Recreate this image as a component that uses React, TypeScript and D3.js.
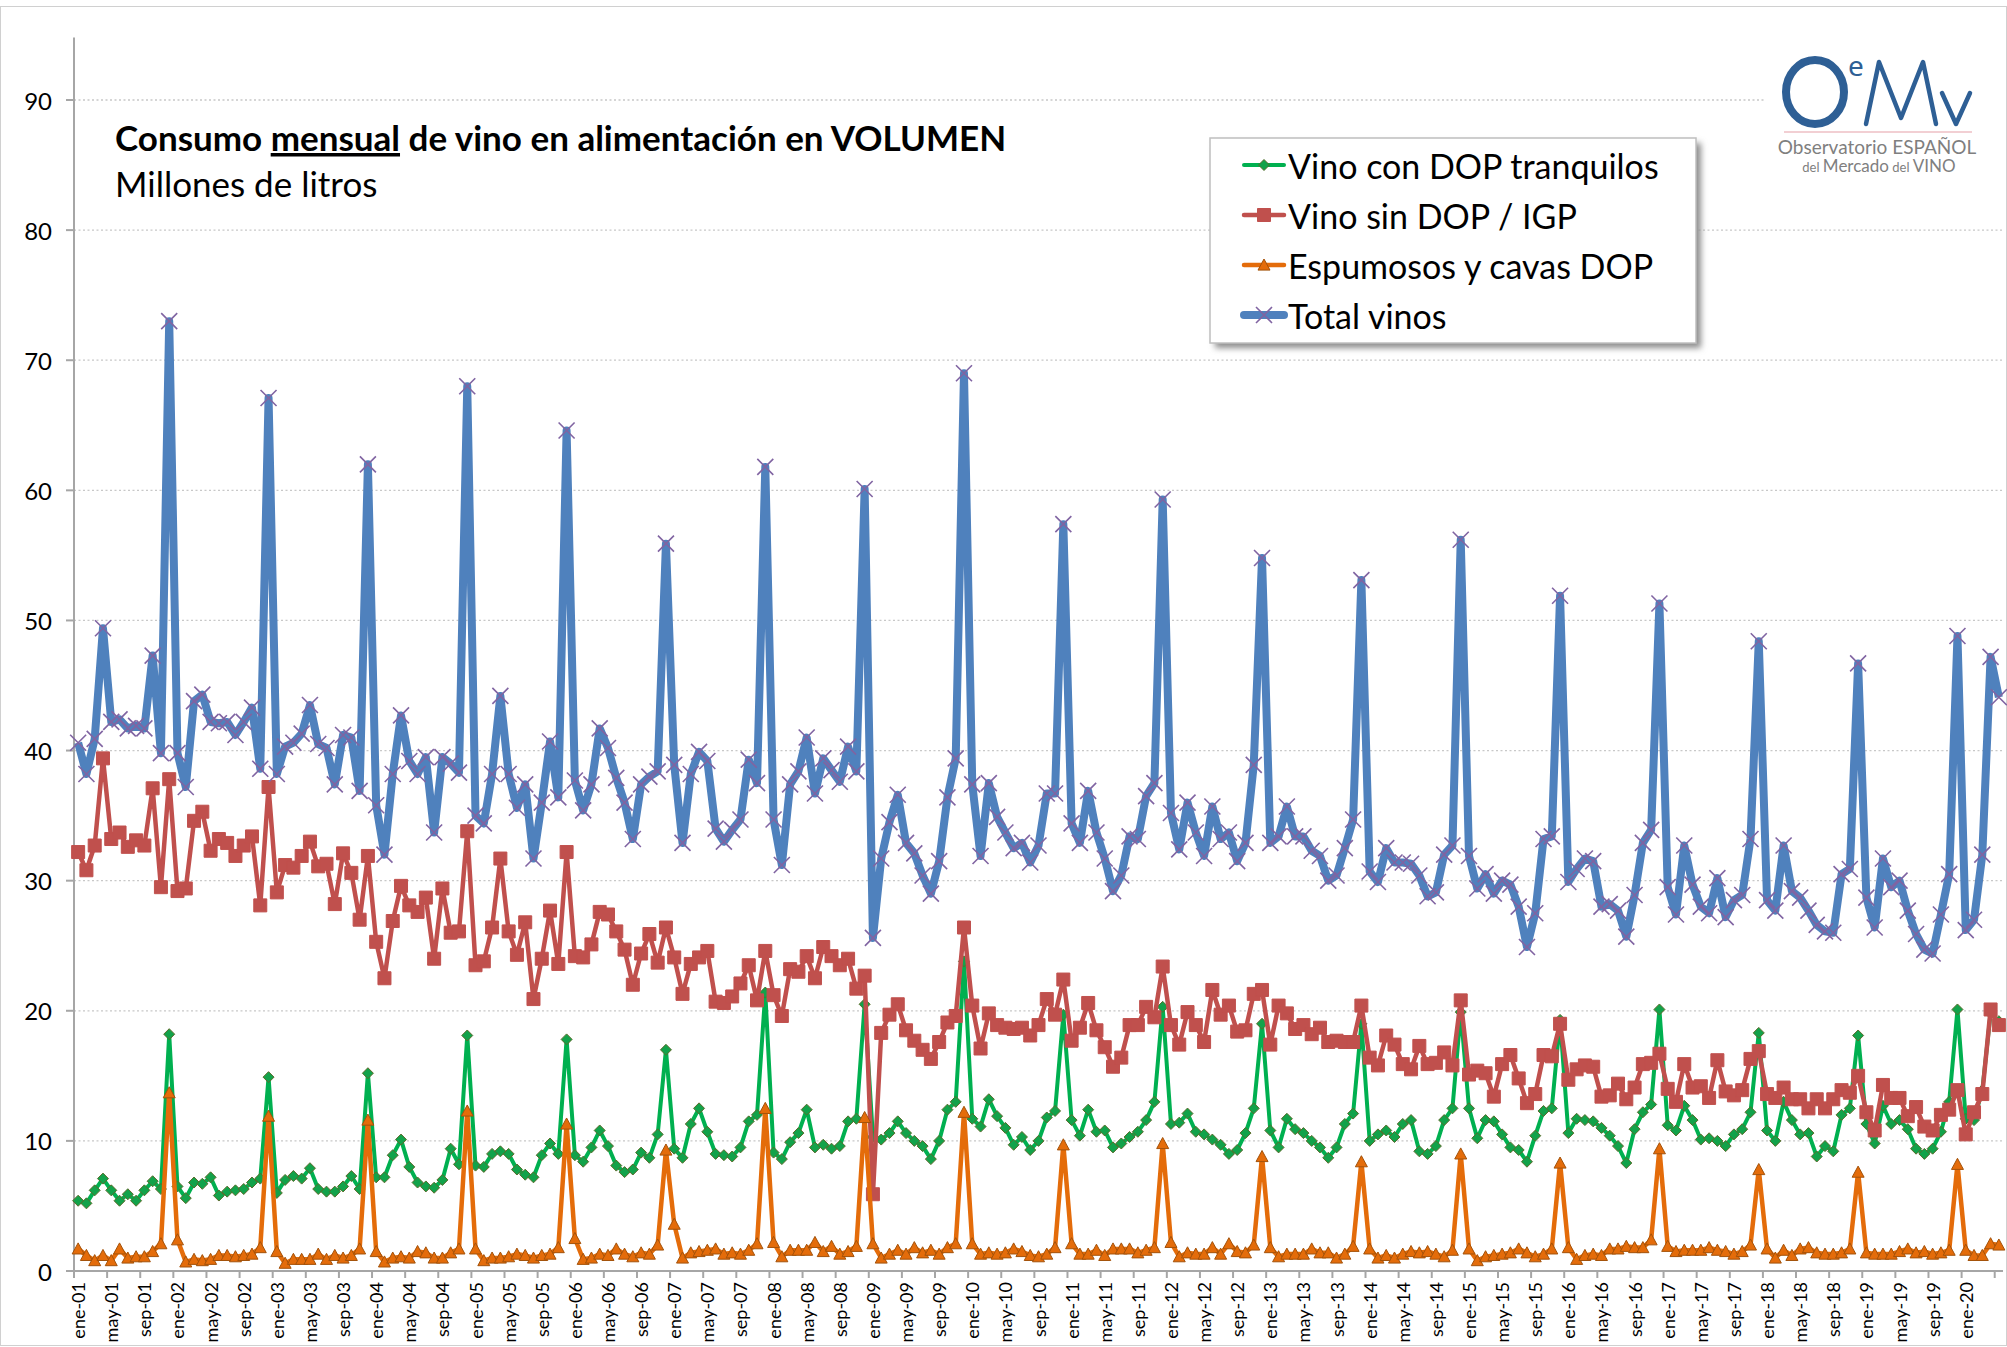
import * as React from 'react';
import * as d3 from 'd3';

// eje de categorías: ene-01 ... may-20
const monthNames = ['ene', 'feb', 'mar', 'abr', 'may', 'jun', 'jul', 'ago', 'sep', 'oct', 'nov', 'dic'];
const startYear = 2001;
const nMonths = 233;
const categories = d3.range(nMonths).map(i =>
    `${monthNames[i % 12]}-${String((startYear + Math.floor(i / 12)) % 100).padStart(2, '0')}`);

// millones de litros
const dopTranquilos = [
    5.4, 5.2, 6.2, 7.1, 6.2, 5.4, 5.9, 5.4, 6.2, 6.9,
    6.3, 18.2, 6.5, 5.6, 6.8, 6.7, 7.2, 5.8, 6.1, 6.2,
    6.3, 6.8, 7.1, 14.9, 6.0, 7.0, 7.3, 7.1, 7.9, 6.3,
    6.1, 6.1, 6.5, 7.3, 6.3, 15.2, 7.2, 7.2, 8.9, 10.1,
    8.0, 6.8, 6.5, 6.4, 7.0, 9.4, 8.2, 18.1, 8.1, 8.0,
    9.0, 9.2, 9.0, 7.8, 7.4, 7.2, 8.9, 9.8, 9.0, 17.8,
    8.9, 8.4, 9.5, 10.8, 9.6, 8.1, 7.6, 7.8, 9.1, 8.7,
    10.5, 17.0, 9.4, 8.7, 11.3, 12.5, 10.7, 9.0, 8.9, 8.8,
    9.5, 11.5, 12.0, 21.4, 9.1, 8.6, 9.9, 10.6, 12.4, 9.5,
    9.7, 9.4, 9.6, 11.5, 11.7, 20.5, 10.3, 10.1, 10.6, 11.5,
    10.6, 10.0, 9.6, 8.6, 10.0, 12.4, 13.0, 23.8, 11.7, 11.1,
    13.2, 11.9, 11.0, 9.7, 10.3, 9.3, 10.0, 11.8, 12.3, 19.7,
    11.6, 10.4, 12.4, 10.7, 10.8, 9.5, 9.8, 10.3, 10.7, 11.6,
    13.0, 20.3, 11.3, 11.4, 12.1, 10.7, 10.5, 10.1, 9.7, 9.0,
    9.3, 10.6, 12.5, 19.0, 10.8, 9.5, 11.7, 10.9, 10.6, 10.0,
    9.5, 8.7, 9.5, 11.3, 12.1, 19.0, 10.0, 10.5, 10.8, 10.3,
    11.3, 11.6, 9.2, 9.0, 9.6, 11.6, 12.5, 19.9, 12.5, 10.2,
    11.6, 11.5, 10.5, 9.5, 9.3, 8.4, 10.4, 12.3, 12.5, 19.3,
    10.6, 11.7, 11.6, 11.5, 11.0, 10.4, 9.6, 8.3, 10.9, 12.2,
    12.8, 20.1, 11.2, 10.8, 12.7, 11.6, 10.1, 10.2, 10.0, 9.6,
    10.5, 10.9, 12.2, 18.3, 10.8, 10.0, 13.0, 11.6, 10.5, 10.6,
    8.8, 9.6, 9.2, 12.0, 12.5, 18.1, 11.3, 9.8, 12.7, 11.3,
    11.6, 10.9, 9.4, 9.0, 9.4, 10.7, 13.0, 20.1, 11.7, 11.6,
    13.9, 19.8, 19.2
];

const sinDop = [
    32.2, 30.8, 32.7, 39.4, 33.2, 33.7, 32.6, 33.1, 32.7, 37.1,
    29.5, 37.8, 29.2, 29.4, 34.6, 35.3, 32.3, 33.2, 32.9, 31.9,
    32.7, 33.4, 28.1, 37.2, 29.1, 31.2, 31.0, 31.9, 33.0, 31.1,
    31.3, 28.2, 32.1, 30.6, 27.0, 31.9, 25.3, 22.5, 26.9, 29.6,
    28.1, 27.6, 28.7, 24.0, 29.4, 26.0, 26.1, 33.8, 23.5, 23.8,
    26.4, 31.7, 26.1, 24.3, 26.8, 20.9, 24.0, 27.7, 23.6, 32.2,
    24.2, 24.1, 25.1, 27.6, 27.4, 26.1, 24.7, 22.0, 24.4, 25.9,
    23.7, 26.4, 24.1, 21.3, 23.6, 24.1, 24.6, 20.7, 20.6, 21.1,
    22.1, 23.5, 20.8, 24.6, 21.2, 19.6, 23.2, 23.0, 24.2, 22.5,
    24.9, 24.2, 23.5, 24.0, 21.7, 22.7, 5.9, 18.3, 19.7, 20.5,
    18.5, 17.7, 17.0, 16.3, 17.6, 19.1, 19.6, 26.4, 20.4, 17.1,
    19.8, 18.9, 18.7, 18.6, 18.7, 18.1, 18.9, 20.9, 19.7, 22.4,
    17.7, 18.7, 20.6, 18.5, 17.2, 15.7, 16.4, 18.9, 18.9, 20.3,
    19.5, 23.4, 18.9, 17.4, 19.9, 18.9, 17.6, 21.6, 19.7, 20.4,
    18.4, 18.5, 21.3, 21.6, 17.4, 20.4, 19.8, 18.6, 18.9, 18.2,
    18.7, 17.6, 17.7, 17.6, 17.6, 20.4, 16.4, 15.8, 18.1, 17.4,
    15.9, 15.5, 17.3, 15.9, 16.0, 16.8, 15.8, 20.8, 15.1, 15.4,
    15.2, 13.4, 15.9, 16.6, 14.8, 12.9, 13.6, 16.6, 16.5, 19.0,
    14.7, 15.5, 15.8, 15.7, 13.4, 13.5, 14.4, 13.2, 14.1, 15.9,
    16.0, 16.7, 14.0, 13.0, 15.9, 14.1, 14.2, 13.3, 16.2, 13.8,
    13.5, 13.9, 16.3, 16.9, 13.6, 13.3, 14.1, 13.2, 13.2, 12.5,
    13.2, 12.5, 13.2, 13.9, 13.7, 15.0, 12.2, 10.8, 14.3, 13.3,
    13.3, 11.9, 12.6, 11.1, 10.8, 12.0, 12.4, 13.9, 10.5, 12.2,
    13.6, 20.1, 18.9
];

const espumosos = [
    1.7, 1.2, 0.8, 1.2, 0.8, 1.7, 1.0, 1.1, 1.1, 1.5,
    2.1, 13.7, 2.4, 0.7, 0.9, 0.8, 0.9, 1.2, 1.2, 1.1,
    1.2, 1.3, 1.8, 11.9, 1.5, 0.6, 0.9, 0.9, 0.9, 1.3,
    0.9, 1.2, 1.0, 1.2, 1.7, 11.6, 1.5, 0.7, 1.0, 1.1,
    1.0, 1.5, 1.4, 1.0, 1.0, 1.4, 1.7, 12.3, 1.7, 0.8,
    1.0, 1.0, 1.1, 1.3, 1.2, 1.0, 1.2, 1.3, 1.8, 11.3,
    2.5, 0.9, 1.0, 1.3, 1.2, 1.7, 1.3, 1.1, 1.4, 1.3,
    2.0, 9.3, 3.6, 1.0, 1.4, 1.5, 1.6, 1.7, 1.3, 1.4,
    1.3, 1.6, 2.1, 12.5, 2.2, 1.1, 1.6, 1.6, 1.6, 2.2,
    1.5, 1.9, 1.3, 1.5, 1.9, 11.8, 2.1, 1.0, 1.3, 1.6,
    1.3, 1.8, 1.4, 1.6, 1.3, 1.8, 2.1, 12.2, 2.1, 1.3,
    1.4, 1.3, 1.4, 1.7, 1.5, 1.2, 1.1, 1.3, 1.8, 9.7,
    2.1, 1.3, 1.3, 1.6, 1.2, 1.7, 1.7, 1.7, 1.4, 1.6,
    1.8, 9.8, 2.2, 1.1, 1.4, 1.3, 1.3, 1.8, 1.3, 2.1,
    1.5, 1.4, 2.0, 8.8, 1.8, 1.1, 1.3, 1.3, 1.3, 1.7,
    1.4, 1.4, 1.0, 1.3, 1.9, 8.4, 1.7, 1.0, 1.2, 1.0,
    1.3, 1.5, 1.4, 1.5, 1.3, 1.1, 1.6, 9.0, 1.7, 0.8,
    1.1, 1.2, 1.3, 1.4, 1.7, 1.4, 1.1, 1.3, 1.7, 8.3,
    1.8, 0.9, 1.2, 1.3, 1.2, 1.7, 1.7, 1.9, 1.8, 1.8,
    2.4, 9.4, 1.9, 1.5, 1.6, 1.6, 1.6, 1.8, 1.6, 1.5,
    1.3, 1.5, 2.0, 7.8, 1.7, 1.0, 1.6, 1.2, 1.7, 1.8,
    1.4, 1.3, 1.3, 1.4, 1.7, 7.6, 1.4, 1.3, 1.3, 1.3,
    1.5, 1.7, 1.4, 1.5, 1.3, 1.4, 1.6, 8.2, 1.6, 1.2,
    1.2, 2.1, 2.0
];

const totalVinos = [
    40.6, 38.2, 40.9, 49.4, 42.2, 42.4, 41.7, 41.9, 41.7, 47.3,
    39.8, 73.0, 39.8, 37.2, 43.8, 44.3, 42.2, 42.1, 42.2, 41.2,
    42.2, 43.3, 38.6, 67.1, 38.2, 40.3, 40.6, 41.3, 43.5, 40.5,
    40.2, 37.4, 41.2, 41.0, 36.9, 62.0, 35.8, 32.0, 38.2, 42.7,
    39.2, 38.2, 39.5, 33.7, 39.5, 39.0, 38.3, 68.0, 35.0, 34.4,
    38.2, 44.2, 38.2, 35.6, 37.4, 31.7, 36.0, 40.7, 36.4, 64.6,
    37.7, 35.4, 37.4, 41.7, 40.2, 37.9, 36.0, 33.2, 37.4, 38.0,
    38.4, 55.9, 38.9, 32.9, 38.2, 39.9, 39.2, 34.0, 33.0, 33.9,
    34.7, 39.3, 37.5, 61.8, 34.7, 31.2, 37.4, 38.4, 41.0, 36.7,
    39.4, 38.5, 37.6, 40.3, 38.4, 60.1, 25.6, 31.7, 34.5, 36.6,
    32.9, 32.1, 30.4, 29.0, 31.5, 36.4, 39.4, 69.0, 37.4, 31.9,
    37.5, 34.9, 33.7, 32.5, 32.9, 31.4, 32.7, 36.7, 36.7, 57.4,
    34.4, 32.9, 36.9, 33.7, 31.7, 29.2, 30.4, 33.4, 33.2, 36.5,
    37.5, 59.3, 35.2, 32.4, 36.0, 33.7, 31.9, 35.7, 33.2, 33.7,
    31.5, 32.9, 38.9, 54.8, 32.9, 33.4, 35.7, 33.4, 33.4, 32.3,
    31.9, 30.0, 30.4, 32.5, 34.7, 53.1, 30.7, 29.9, 32.5, 31.4,
    31.4, 31.3, 30.4, 28.8, 29.1, 32.0, 32.7, 56.2, 31.9, 29.4,
    30.5, 29.0, 30.0, 29.7, 28.0, 24.9, 27.5, 33.2, 33.4, 51.9,
    29.9, 30.9, 31.7, 31.5, 28.0, 28.2, 27.7, 25.7, 28.9, 32.9,
    33.9, 51.3, 29.5, 27.4, 32.7, 29.7, 28.0, 27.5, 30.2, 27.2,
    28.5, 28.9, 33.2, 48.4, 28.5, 27.7, 32.7, 29.2, 28.7, 27.7,
    26.6, 26.1, 26.0, 30.5, 30.9, 46.7, 28.7, 26.4, 31.7, 29.5,
    30.0, 27.7, 25.9, 24.7, 24.4, 27.4, 30.5, 48.8, 26.2, 27.0,
    32.0, 47.2, 44.1
];

const yTicks = [0, 10, 20, 30, 40, 50, 60, 70, 80, 90];

const W = 2007;
const H = 1347;
const left = 74;
const right = 2003;
const bottom = 1271;
const top90 = 100;
const font = 'Lato, "Open Sans", sans-serif';

const xScale = d3.scaleBand<number>()
    .domain(d3.range(nMonths))
    .range([left, right])
    .padding(0);
const bw = xScale.bandwidth();
const cx = (i: number) => xScale(i)! + bw / 2;

const yScale = d3.scaleLinear()
    .domain([0, 90])
    .range([bottom, top90]);

const marker = {
    diamond: (s: number) => `M0,${-s}L${s},0L0,${s}L${-s},0Z`,
    square: (s: number) => `M${-s},${-s}h${2 * s}v${2 * s}h${-2 * s}Z`,
    triangle: (s: number) => `M0,${-s}L${s},${s * 0.85}L${-s},${s * 0.85}Z`,
    cross: (s: number) => `M${-s},${-s}L${s},${s}M${-s},${s}L${s},${-s}`,
};

const series = [
    { name: 'Vino con DOP tranquilos', values: dopTranquilos, line: '#00b050', width: 4, shape: 'diamond', size: 5.5, fill: '#12a24a', stroke: '#5a6b2a', mw: 1 },
    { name: 'Vino sin DOP / IGP', values: sinDop, line: '#c0504d', width: 4.5, shape: 'square', size: 6.5, fill: '#c0504d', stroke: '#c0504d', mw: 1 },
    { name: 'Espumosos y cavas DOP', values: espumosos, line: '#e46c0a', width: 4.5, shape: 'triangle', size: 6, fill: '#e46c0a', stroke: '#a3520a', mw: 1 },
    { name: 'Total vinos', values: totalVinos, line: '#4f81bd', width: 8, shape: 'cross', size: 8, fill: 'none', stroke: '#8064a2', mw: 1.6 },
];

const lineGen = d3.line<number>()
    .x((_, i) => cx(i))
    .y(d => yScale(d));

const App = () => {
    const xTickIdx = d3.range(0, nMonths, 4);
    const legendX = 1210;
    const legendY = 138;
    return (
        <div>
            <style>{'body{margin:0}'}</style>
            <svg width={W} height={H} style={{ display: 'block', background: '#fff' }} fontFamily={font}>
                <defs>
                    <filter id="shadow" x="-10%" y="-10%" width="130%" height="130%">
                        <feGaussianBlur stdDeviation="3" />
                    </filter>
                </defs>
                <rect x={0.5} y={6.5} width={W - 1} height={H - 8} fill="#fff" stroke="#d0d0d0" />

                {/* rejilla */}
                {yTicks.filter(t => t > 0).map(t => (
                    <line key={t} x1={left} x2={right} y1={yScale(t)} y2={yScale(t)}
                        stroke="#c8c8c8" strokeWidth={1.3} strokeDasharray="2 2.5" />
                ))}

                {/* eje y */}
                <line x1={left} x2={left} y1={yScale(94.8)} y2={bottom} stroke="#a6a6a6" strokeWidth={2} />
                {yTicks.map(t => (
                    <g key={t}>
                        <line x1={left - 8} x2={left} y1={yScale(t)} y2={yScale(t)} stroke="#a6a6a6" strokeWidth={2} />
                        <text x={52} y={yScale(t)} textAnchor="end" dominantBaseline="central" fontSize={24} fill="#000">{t}</text>
                    </g>
                ))}

                {/* eje x */}
                <line x1={left} x2={right} y1={bottom} y2={bottom} stroke="#a6a6a6" strokeWidth={2} />
                {xTickIdx.map(i => (
                    <line key={i} x1={xScale(i)!} x2={xScale(i)!} y1={bottom} y2={bottom + 7} stroke="#a6a6a6" strokeWidth={2} />
                ))}
                {xTickIdx.filter(i => i <= 228).map(i => (
                    <text key={i} transform={`translate(${cx(i)},${bottom + 11}) rotate(-90)`}
                        textAnchor="end" dominantBaseline="central" fontSize={18} fill="#000">{categories[i]}</text>
                ))}

                {/* series */}
                {series.map(s => (
                    <g key={s.name}>
                        <path d={lineGen(s.values)!} fill="none" stroke={s.line} strokeWidth={s.width} strokeLinejoin="round" />
                        {s.values.map((v, i) => (
                            <path key={i} transform={`translate(${cx(i)},${yScale(v)})`}
                                d={marker[s.shape](s.size)} fill={s.fill} stroke={s.stroke} strokeWidth={s.mw} />
                        ))}
                    </g>
                ))}

                {/* título */}
                <text x={115} y={151} fontSize={35} fontWeight="bold" fill="#000">
                    Consumo <tspan textDecoration="underline" style={{ textDecoration: 'underline' }}>mensual</tspan> de vino en alimentación en VOLUMEN
                </text>
                <text x={115} y={197} fontSize={35} fill="#000">Millones de litros</text>

                {/* leyenda */}
                <rect x={legendX + 5} y={legendY + 5} width={486} height={205} fill="#8c8c8c" filter="url(#shadow)" />
                <rect x={legendX} y={legendY} width={486} height={205} fill="#fff" stroke="#bfbfbf" strokeWidth={1.5} />
                {series.map((s, k) => {
                    const yy = legendY + 27 + k * 50;
                    return (
                        <g key={s.name}>
                            <line x1={legendX + 34} x2={legendX + 74} y1={yy} y2={yy} stroke={s.line} strokeWidth={s.width} strokeLinecap="round" />
                            <path transform={`translate(${legendX + 54},${yy})`} d={marker[s.shape](s.size)}
                                fill={s.fill} stroke={s.stroke} strokeWidth={s.mw} />
                            <text x={legendX + 78} y={yy} dominantBaseline="central" fontSize={34} fill="#000">{s.name}</text>
                        </g>
                    );
                })}

                {/* logo OeMv */}
                <g>
                    <rect x={1765} y={40} width={240} height={140} fill="#fff" />
                    <ellipse cx={1815} cy={92} rx={29} ry={32} fill="none" stroke="#2e5f95" strokeWidth={8} />
                    <text x={1848} y={76} fontSize={28} fill="#2e5f95" fontFamily='"Noto Sans", sans-serif'>e</text>
                    <path d="M1866,124L1879,62L1901,118L1923,62L1936,124M1942,93L1956,124L1970,93"
                        fill="none" stroke="#2e5f95" strokeWidth={4.5} strokeLinejoin="round" strokeLinecap="round" />
                    <line x1={1784} x2={1972} y1={132} y2={132} stroke="#e6a0a8" strokeWidth={1.2} />
                    <text x={1877} y={154} fontSize={19} fill="#7f7f7f" textAnchor="middle">Observatorio ESPAÑOL</text>
                    <text x={1879} y={172} fontSize={17} fill="#7f7f7f" textAnchor="middle">
                        <tspan fontSize={13}>del </tspan>Mercado<tspan fontSize={13}> del </tspan>VINO
                    </text>
                </g>
            </svg>
        </div>
    );
};

export default App;
